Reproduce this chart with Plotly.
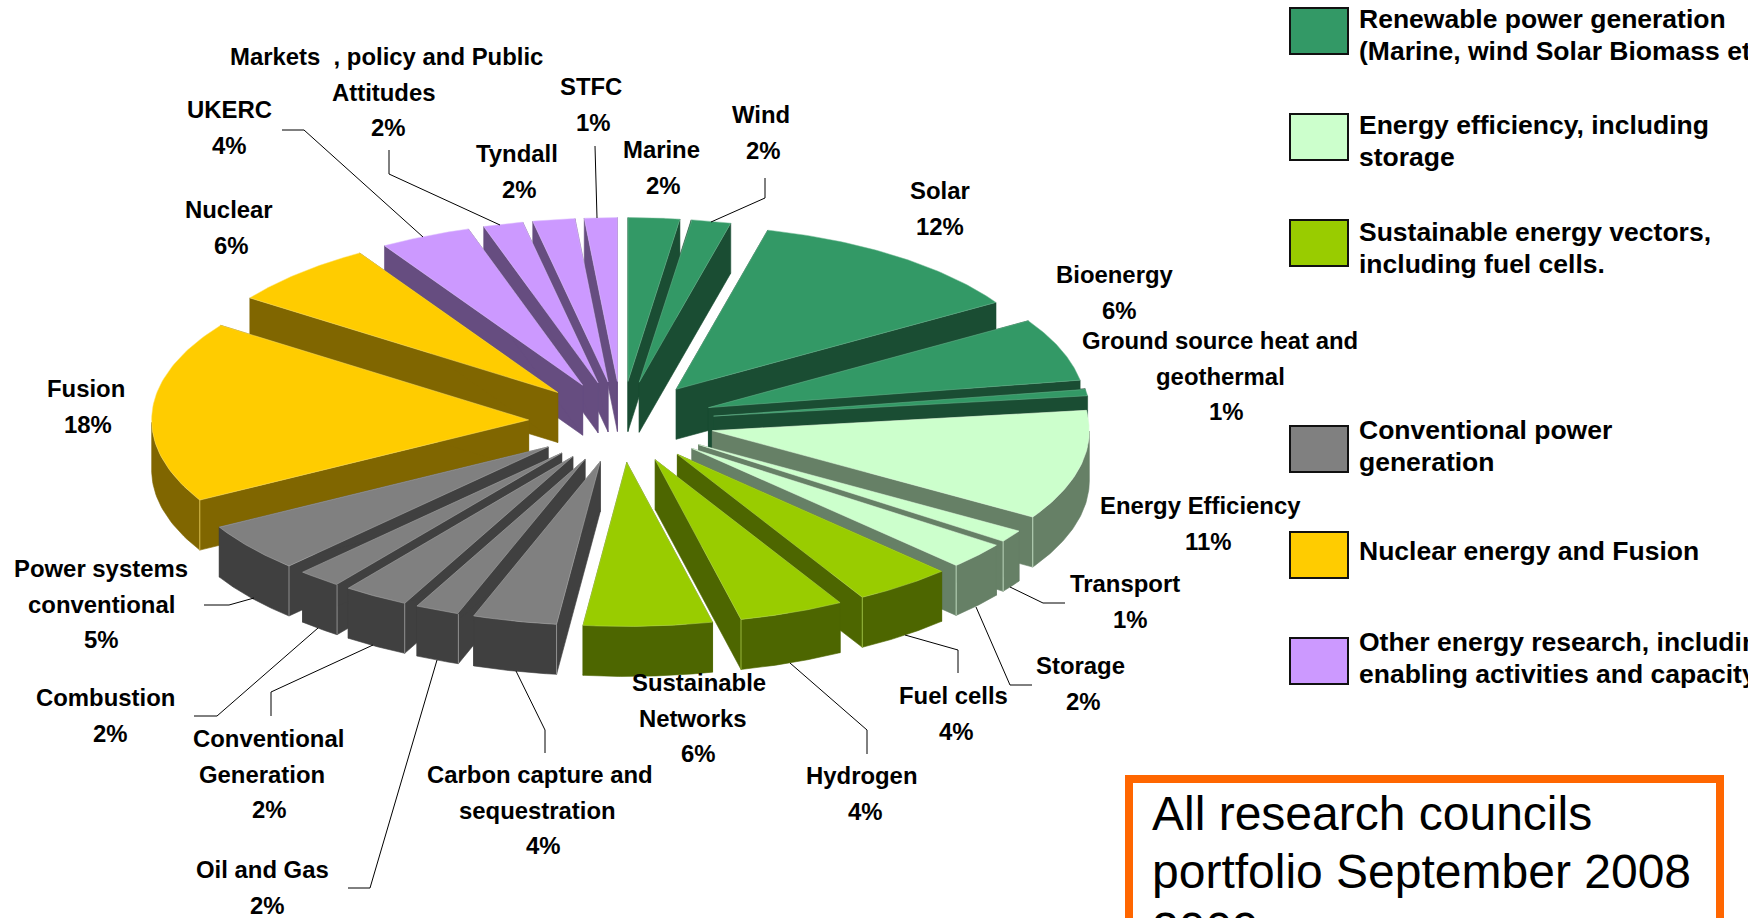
import numpy as np
import plotly.graph_objects as go

# ---------- data ----------
categories = ["Marine", "Wind", "Solar", "Bioenergy", "Ground source heat and geothermal",
              "Energy Efficiency", "Transport", "Storage", "Fuel cells", "Hydrogen",
              "Sustainable Networks", "Carbon capture and sequestration", "Oil and Gas",
              "Conventional Generation", "Combustion", "Power systems conventional",
              "Fusion", "Nuclear", "UKERC", "Markets , policy and Public Attitudes",
              "Tyndall", "STFC"]
values = [2.2, 1.7, 12.2, 6.2, 0.7, 10.8, 1.2, 2.6, 4.2, 4.5, 5.5, 3.6, 1.9, 2.8, 1.9, 4.8,
          17.9, 6.4, 3.9, 1.7, 1.8, 1.4]
percent_labels = ["2%", "2%", "12%", "6%", "1%", "11%", "1%", "2%", "4%", "4%", "6%", "4%",
                  "2%", "2%", "2%", "5%", "18%", "6%", "4%", "2%", "2%", "1%"]
groups = ["ren"] * 5 + ["eff"] * 3 + ["vec"] * 3 + ["con"] * 5 + ["nuc"] * 2 + ["oth"] * 4

legend_keys = ["ren", "eff", "vec", "con", "nuc", "oth"]
legend_text = [["Renewable power generation", "(Marine, wind Solar Biomass etc)"],
               ["Energy efficiency, including", "storage"],
               ["Sustainable energy vectors,", "including fuel cells."],
               ["Conventional power", "generation"],
               ["Nuclear energy and Fusion"],
               ["Other energy research, including", "enabling activities and capacity building"]]
title_lines = ["All research councils", "portfolio September 2008", "2009"]

# ---------- styles and layout ----------
top_col = dict(ren="#339966", eff="#CCFFCC", vec="#99CC00", con="#808080", nuc="#FFCC00", oth="#CC99FF")
side_col = dict(ren="#1A4D33", eff="#668066", vec="#4D6600", con="#404040", nuc="#806600", oth="#664D80")
edge_col = dict(ren="#6FB893", eff="#E2FFE2", vec="#B8DC55", con="#B0B0B0", nuc="#FFE066", oth="#DEC0FF")

W, H = 1748, 918
CX, CY = 621.5, 422.0     # pie centre on the top face
RX, RY = 377.0, 164.0     # ellipse radii
PX, PY = 93.0, 40.5       # explosion offset
DEPTH = 50.0
FONT = "Liberation Sans"
LABEL_SIZE = 23.9
LINE_STEP = 35.7

# (centre x, centre y of first line) for each label, same order as categories
label_pos = [(661, 149.5), (761, 114.5), (940, 190.5), (1115, 274.5), (1220, 340.5), (1200, 505.5),
             (1125, 583.5), (1080, 665.5), (953, 695.5), (862, 775.5), (699, 682.5), (540, 774.5),
             (262, 869.5), (268, 738.5), (105, 697.5), (101, 568.5), (86, 388.5), (229, 209.5),
             (229, 109.5), (386, 56.5), (517, 153.5), (591, 86.5)]
label_lines = [["Marine"], ["Wind"], ["Solar"], ["Bioenergy"], ["Ground source heat and", "geothermal"],
               ["Energy Efficiency"], ["Transport"], ["Storage"], ["Fuel cells"], ["Hydrogen"],
               ["Sustainable", "Networks"], ["Carbon capture and", "sequestration"], ["Oil and Gas"],
               ["Conventional", "Generation"], ["Combustion"], ["Power systems", "conventional"],
               ["Fusion"], ["Nuclear"], ["UKERC"], ["Markets  , policy and Public", "Attitudes"],
               ["Tyndall"], ["STFC"]]
second_line_dx = [0, 0, 0, 0, 0, 0, 0, 0, 0, 0, -6, -3, 0, -6, 0, 0, 0, 0, 0, -2, 0, 0]
percent_dx = [2, 2, 0, 4, 6, 8, 5, 3, 3, 3, -1, 3, 5, 1, 5, 0, 2, 2, 0, 2, 2, 2]

leaders = [[(711, 222), (765, 198), (765, 178)],
           [(595, 146), (597, 218)],
           [(389, 150), (389, 174), (500, 225)],
           [(282, 130), (304, 130), (423, 237)],
           [(1010, 587), (1043, 603), (1065, 603)],
           [(976, 607), (1010, 685), (1032, 685)],
           [(905, 635), (958, 650), (958, 673)],
           [(790, 663), (867, 730), (867, 754)],
           [(516, 671), (545, 730), (545, 753)],
           [(437, 660), (370, 888), (348, 888)],
           [(373, 645), (271, 692), (271, 716)],
           [(318, 628), (217, 716), (194, 716)],
           [(254, 598), (229, 605), (204, 605)]]

# ---------- geometry derived from the values ----------
vals = np.array(values, dtype=float)
edges = np.concatenate([[0.0], np.cumsum(vals) / vals.sum() * 2 * np.pi])


def ring(theta, ax, ay, dz=0.0):
    return ax + RX * np.sin(theta), ay - RY * np.cos(theta) + dz


def poly(xs, ys, fill, line=None, width=0.6):
    return go.Scatter(x=list(xs) + [xs[0]], y=list(ys) + [ys[0]], mode="lines", fill="toself",
                      fillcolor=fill, line=dict(color=line or fill, width=width),
                      hoverinfo="skip", showlegend=False)


fig = go.Figure()
mids = (edges[:-1] + edges[1:]) / 2
order = np.argsort(-np.cos(mids))
for i in order:
    a, b, m, g = edges[i], edges[i + 1], mids[i], groups[i]
    ax, ay = CX + PX * np.sin(m), CY - PY * np.cos(m)
    t = np.linspace(a, b, 60)
    ox, oy = ring(t, ax, ay)
    side = side_col[g]
    # radial walls
    for ang in (a, b):
        ex, ey = ring(np.array([ang]), ax, ay)
        fig.add_trace(poly([ax, ex[0], ex[0], ax], [ay, ey[0], ey[0] + DEPTH, ay + DEPTH], side))
    # outer wall (only the part facing the viewer)
    tv = t[(t >= np.pi / 2) & (t <= 3 * np.pi / 2)]
    if tv.size > 1:
        vx, vy = ring(tv, ax, ay)
        fig.add_trace(poly(list(vx) + list(vx[::-1]), list(vy) + list(vy[::-1] + DEPTH), side))
        # thin light vertical edge at the visible corner
        for ang in (a, b):
            if (np.pi / 2 < ang < np.pi and ang == b) or (np.pi < ang < 3 * np.pi / 2 and ang == a):
                ex, ey = ring(np.array([ang]), ax, ay)
                fig.add_trace(go.Scatter(x=[ex[0], ex[0]], y=[ey[0], ey[0] + DEPTH], mode="lines",
                                         line=dict(color=edge_col[g], width=0.7),
                                         hoverinfo="skip", showlegend=False))
    # top face
    fig.add_trace(poly([ax] + list(ox), [ay] + list(oy), top_col[g], edge_col[g], 0.5))

shapes = []
for pts in leaders:
    path = "M " + " L ".join(f"{x},{y}" for x, y in pts)
    shapes.append(dict(type="path", path=path, xref="x", yref="y", line=dict(color="#000000", width=1)))

annotations = []


def text(x, y, s, size, bold=True, xanchor="center", yshift=0):
    annotations.append(dict(x=x, y=y, xref="x", yref="y", text=f"<b>{s}</b>" if bold else s,
                            showarrow=False, xanchor=xanchor, yanchor="middle", align=xanchor,
                            yshift=yshift, font=dict(family=FONT, size=size, color="#000000")))


for (x, y), lines, pct, d2, dp in zip(label_pos, label_lines, percent_labels, second_line_dx, percent_dx):
    for k, s in enumerate(lines):
        text(x + (d2 if k == 1 else 0), y + k * LINE_STEP, s, LABEL_SIZE)
    text(x + dp, y + len(lines) * LINE_STEP, pct, LABEL_SIZE)

# legend
swatch_top = [8, 114, 220, 426, 532, 638]
text_top = [19, 125, 232, 430, 551, 642]
for key, y0, ty, lines in zip(legend_keys, swatch_top, text_top, legend_text):
    shapes.append(dict(type="rect", xref="x", yref="y", x0=1290, x1=1348, y0=y0, y1=y0 + 46,
                       fillcolor=top_col[key], line=dict(color="#111111", width=2)))
    for k, s in enumerate(lines):
        text(1357, ty + k * 32, s, 26.5, xanchor="left")

# title box, running off the bottom of the page
shapes.append(dict(type="rect", xref="x", yref="y", x0=1129, x1=1720, y0=779, y1=980,
                   fillcolor="#FFFFFF", line=dict(color="#FF6600", width=8)))
title_y = [813, 871, 929]
for s, y in zip(title_lines, title_y):
    text(1150, min(y, H), s, 48, bold=False, xanchor="left", yshift=-(y - min(y, H)))

fig.update_layout(width=W, height=H, margin=dict(l=0, r=0, t=0, b=0), autosize=False,
                  paper_bgcolor="#FFFFFF", plot_bgcolor="#FFFFFF", showlegend=False,
                  xaxis=dict(range=[0, W], visible=False, fixedrange=True),
                  yaxis=dict(range=[H, 0], visible=False, fixedrange=True),
                  shapes=shapes, annotations=annotations)
fig.write_html("out.html", post_script="document.body.style.margin='0';document.body.style.overflow='hidden';",
               config=dict(displayModeBar=False))
